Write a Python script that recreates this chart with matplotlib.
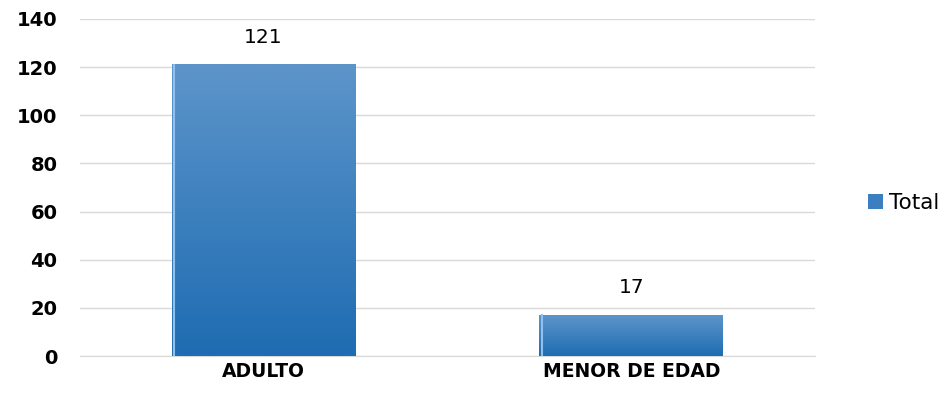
import numpy as np
import matplotlib
matplotlib.use("Agg")
import matplotlib.pyplot as plt
from matplotlib.colors import LinearSegmentedColormap

categorias = ["ADULTO", "MENOR DE EDAD"]
totales = [121, 17]
serie = "Total"

fig = plt.figure(figsize=(9.48, 4.01), dpi=100)
ax = fig.add_axes([0.084, 0.112, 0.776, 0.841])

x = np.arange(len(categorias))
barras = ax.bar(x, totales, width=0.5, color="#3b7fc0", label=serie, zorder=2)

# degradado vertical sobre cada barra
cmap = LinearSegmentedColormap.from_list("azul", ["#1e6cb2", "#5d95ca"])
grad = np.linspace(0, 1, 256).reshape(-1, 1)
for b in barras:
    ax.imshow(grad, cmap=cmap, origin="lower", aspect="auto", zorder=3,
              extent=[b.get_x(), b.get_x() + b.get_width(), 0, b.get_height()])
    ax.plot([b.get_x() + 0.006, b.get_x() + 0.006], [0, b.get_height()],
            color="#8fc0ee", lw=1.5, zorder=4)
    ax.text(b.get_x() + b.get_width() / 2, b.get_height() + 7.5, str(int(b.get_height())),
            ha="center", va="bottom", fontsize=14.5, zorder=5)

ax.set_xlim(-0.5, 1.5)
ax.set_ylim(0, 140)
ax.set_yticks(range(0, 141, 20))
ax.set_xticks(x)
ax.set_xticklabels(categorias, fontsize=13.5, fontweight="bold")
for t in ax.get_yticklabels():
    t.set_fontsize(14)
    t.set_fontweight("bold")
ax.tick_params(length=0)
ax.tick_params(axis="y", pad=16)
ax.tick_params(axis="x", pad=4)
ax.grid(axis="y", color="#d9d9d9", lw=1, zorder=0)
for s in ["top", "right", "left"]:
    ax.spines[s].set_visible(False)
ax.spines["bottom"].set_color("#d9d9d9")

leg = ax.legend(loc="center left", bbox_to_anchor=(1.045, 0.455), frameon=False,
                fontsize=15.5, handlelength=0.7, handleheight=0.7, handletextpad=0.3)

plt.savefig("out.png", dpi=100)
